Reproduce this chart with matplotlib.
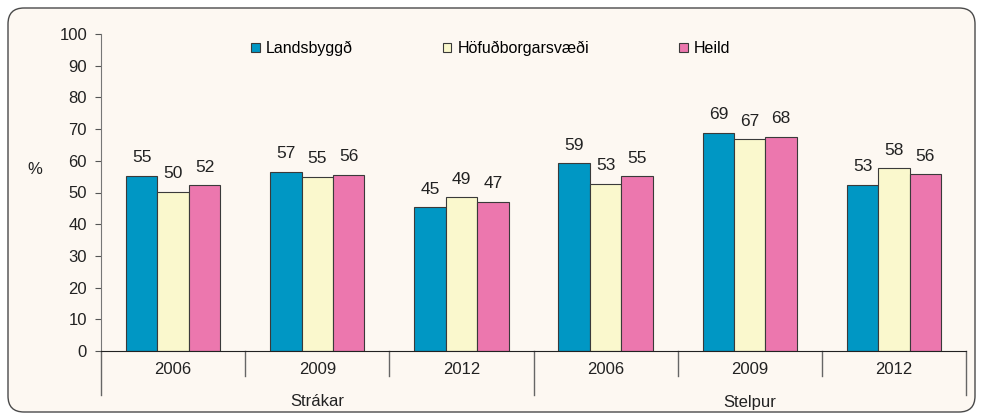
import matplotlib
matplotlib.use("Agg")
import matplotlib.pyplot as plt
import numpy as np
from matplotlib.patches import FancyBboxPatch
from matplotlib.transforms import IdentityTransform, blended_transform_factory

plt.rcParams['font.family'] = ['Liberation Sans', 'DejaVu Sans']

#%% Data
years = ['2006', '2009', '2012', '2006', '2009', '2012']
groups = ['Strákar', 'Stelpur']
series = ['Landsbyggð', 'Höfuðborgarsvæði', 'Heild']
landsbyggd = [55.3, 56.6, 45.3, 59.2, 68.9, 52.5]
hofudborg = [50.2, 55.0, 48.6, 52.8, 66.8, 57.6]
heild = [52.3, 55.6, 47.1, 55.2, 67.6, 55.7]
labels_lands = [55, 57, 45, 59, 69, 53]
labels_hofud = [50, 55, 49, 53, 67, 58]
labels_heild = [52, 56, 47, 55, 68, 56]

colors = ['#0097c4', '#faf8cd', '#ec77ae']
edge = '#3a3a3a'
bg = '#fdf8f2'

#%% Figure
fig = plt.figure(figsize=(9.82, 4.2), dpi=100)
fig.patch.set_facecolor('white')
frame = FancyBboxPatch((8, 8), 967, 404, boxstyle='round,pad=0,rounding_size=16',
                       transform=IdentityTransform(), facecolor=bg,
                       edgecolor='#4a4a4a', linewidth=1.0, zorder=-10)
fig.patches.append(frame)

ax = fig.add_axes([101 / 982, 69 / 420, 865 / 982, 317 / 420])
ax.patch.set_visible(False)

x = np.arange(len(years))
w = 0.218
vals = [landsbyggd, hofudborg, heild]
labs = [labels_lands, labels_hofud, labels_heild]
for i, (v, lb) in enumerate(zip(vals, labs)):
    pos = x + (i - 1) * w
    ax.bar(pos, v, width=w, color=colors[i], edgecolor=edge, linewidth=0.8, label=series[i])
    for px, py, t in zip(pos, v, lb):
        ax.annotate(str(t), (px, py), xytext=(0, 7.5), textcoords='offset points',
                    ha='center', va='bottom', fontsize=12.5, color='#222222')

ax.set_xlim(-0.5, len(years) - 0.5)
ax.set_ylim(0, 100)
ax.set_yticks(np.arange(0, 101, 10))
ax.tick_params(axis='y', length=4, width=0.8, color='#555555', pad=6, labelsize=12, labelcolor='#222222')
ax.set_xticks([])
for s in ['top', 'right']:
    ax.spines[s].set_visible(False)
ax.spines['left'].set_color('#777777')
ax.spines['bottom'].set_color('#222222')

# two level category axis
tr = blended_transform_factory(ax.transData, ax.transAxes)
axh = 317.0
for b in np.arange(-0.5, len(years), 1.0):
    depth = 44 if b in (-0.5, 2.5, 5.5) else 25
    ax.plot([b, b], [0, -depth / axh], transform=tr, color='#666666', lw=1.0, clip_on=False)
for xi, yr in zip(x, years):
    ax.text(xi, -18 / axh, yr, transform=tr, ha='center', va='center', fontsize=12, color='#222222')
for gi, g in enumerate(groups):
    ax.text(gi * 3 + 1, -51 / axh, g, transform=tr, ha='center', va='center', fontsize=12, color='#222222')

fig.text(35 / 982, 1 - 170 / 420, '%', ha='center', va='center', fontsize=12, color='#222222')

leg = ax.legend(loc='upper left', bbox_to_anchor=(251 / 982, 1 - 41 / 420), bbox_transform=fig.transFigure,
                ncol=3, frameon=False, handlelength=0.55, handleheight=0.55, handletextpad=0.4,
                columnspacing=5.6, fontsize=11.5, borderpad=0, borderaxespad=0)

fig.savefig('out.png', dpi=100, facecolor='white')
